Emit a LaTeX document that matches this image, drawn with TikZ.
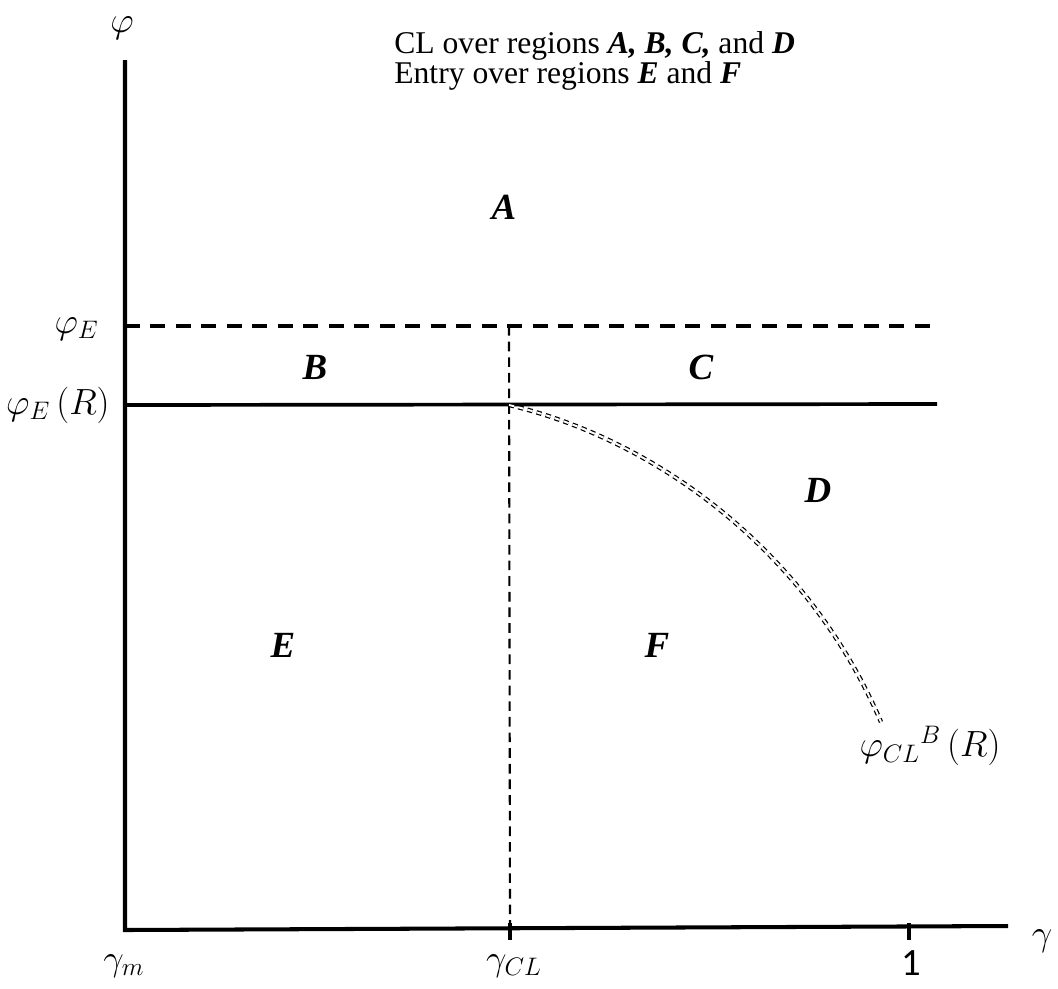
\documentclass[tikz,border=0pt]{standalone}
\usepackage{fontspec}
\setmainfont{Liberation Serif}
\newfontfamily\carl{Carlito}
\begin{document}
\begin{tikzpicture}[x=0.02cm,y=-0.02cm,
  axis/.style={line width=2.3pt},
  lbl/.style={inner sep=0pt,font=\fontsize{21}{24}\selectfont},
  region/.style={inner sep=0pt,font=\fontsize{21}{24}\selectfont\bfseries\itshape},
  curve/.style={dash pattern=on 3pt off 2.4pt,line width=0.7pt,double=white,double distance=1.1pt}]
\useasboundingbox (0,0) rectangle (1058,988);
% axes
\coordinate (top) at (125,60);
\coordinate (org) at (125,930);
\coordinate (xend) at (1008,926);
\draw[axis] (top) -- (org) -- (xend);
% ticks
\coordinate (t1a) at (909,923);
\coordinate (t1b) at (909,940);
\draw[line width=2pt] (t1a) -- (t1b);
\coordinate (tca) at (510,923);
\coordinate (tcb) at (510,940);
\draw[line width=2.4pt] (tca) -- (tcb);
% horizontal lines
\coordinate (peL) at (125,326);
\coordinate (peR) at (930,326);
\draw[line width=1.8pt,dash pattern=on 8.5pt off 6pt] (peL) -- (peR);
\coordinate (prL) at (125,405);
\coordinate (prR) at (937,404);
\coordinate (cross) at (509,405);
\draw[line width=2.1pt] (prL) -- (prR);
% vertical dashed
\coordinate (vtop) at (509,326);
\draw[line width=1.2pt,dash pattern=on 5.5pt off 3.4pt] (vtop) -- (tca);
% curve
\coordinate (cend) at (881,722);
\draw[curve] (cross) .. controls (650,438) and (805,545) .. (cend);
% axis labels
\node[lbl] (phi) at (122,28) {$\varphi$};
\node[lbl,anchor=east] (phiE) at (99,329) {$\varphi_E$};
\node[lbl,anchor=east] (phiER) at (110,405) {$\varphi_E\,(R)$};
\node[lbl] (phiCL) at (930,746) {$\varphi_{CL}{}^{B}\,(R)$};
\node[lbl] (gm) at (124,966) {$\gamma_m$};
\node[lbl] (gcl) at (514,966) {$\gamma_{CL}$};
\node[lbl] (g) at (1042,941) {$\gamma$};
\node[inner sep=0pt,font=\carl\fontsize{22}{24}\selectfont] (one) at (911,963) {1};
% top text
\node[inner sep=0pt,anchor=base west,font=\fontsize{18}{18}\selectfont] (txt) at (394,53)
  {CL over regions \textbf{\textit{A, B, C,}} and \textbf{\textit{D}}};
\node[inner sep=0pt,anchor=base west,font=\fontsize{18}{18}\selectfont] (txt2) at (394,83)
  {Entry over regions \textbf{\textit{E}} and \textbf{\textit{F}}};
% region letters
\node[region] (A) at (504,207) {A};
\node[region] (B) at (315,367) {B};
\node[region] (C) at (701,367) {C};
\node[region] (D) at (818,490) {D};
\node[region] (E) at (283,645) {E};
\node[region] (F) at (657,645) {F};
\end{tikzpicture}
\end{document}
